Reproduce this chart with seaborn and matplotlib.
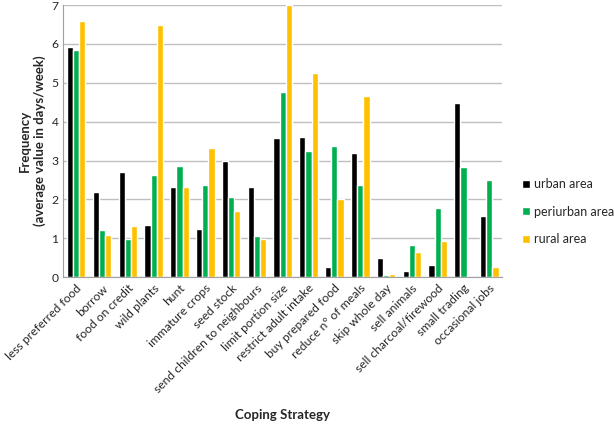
import pandas as pd
import matplotlib.pyplot as plt
import seaborn as sns

# Coping strategies and average frequency per area
strategies = ['less preferred food', 'borrow', 'food on credit', 'wild plants', 'hunt',
              'immature crops', 'seed stock', 'send children to neighbours',
              'limit portion size', 'restrict adult intake', 'buy prepared food',
              'reduce n° of meals', 'skip whole day', 'sell animals',
              'sell charcoal/firewood', 'small trading', 'occasional jobs']
urban = [5.92, 2.19, 2.7, 1.33, 2.32, 1.24, 3.0, 2.32, 3.57, 3.6, 0.25, 3.2, 0.49, 0.15, 0.32, 4.49, 1.57]
periurban = [5.85, 1.22, 0.99, 2.64, 2.85, 2.36, 2.07, 1.06, 4.76, 3.25, 3.37, 2.36, 0.06, 0.83, 1.78, 2.84, 2.49]
rural = [6.58, 1.08, 1.32, 6.5, 2.32, 3.33, 1.71, 0.99, 7.0, 5.25, 2.0, 4.67, 0.09, 0.65, 0.92, 0.0, 0.25]
areas = ['urban area', 'periurban area', 'rural area']
colors = ['#000000', '#00B050', '#FFC000']

data = pd.DataFrame({'strategy': strategies, 'urban area': urban,
                     'periurban area': periurban, 'rural area': rural})
data = data.melt(id_vars='strategy', var_name='area', value_name='freq')

sns.set_style('white')
plt.rcParams['font.family'] = ['Lato', 'DejaVu Sans']

fig = plt.figure(figsize=(6.14, 4.25), dpi=100)
ax = fig.add_axes([0.103, 0.348, 0.715, 0.64])
sns.barplot(data=data, x='strategy', y='freq', hue='area', hue_order=areas,
            palette=colors, width=0.72, saturation=1, ax=ax)

ax.set_ylim(0, 7)
ax.set_yticks(range(8))
ax.set_xlim(-0.5, len(strategies) - 0.5)
ax.yaxis.grid(True, color='#bfbfbf', linewidth=1)
ax.set_axisbelow(True)
for s in ['top', 'right']:
    ax.spines[s].set_visible(False)
ax.spines['left'].set_color('#a0a0a0')
ax.spines['bottom'].set_color('#a0a0a0')
ax.tick_params(length=0, labelsize=8.7)
ax.tick_params(axis='x', pad=4)
plt.setp(ax.get_xticklabels(), rotation=45, ha='right', rotation_mode='anchor')

ax.set_xlabel('Coping Strategy', fontsize=9.5, fontweight='bold', labelpad=10)
ax.set_ylabel('Frequency\n(average value in days/week)', fontsize=9.5, fontweight='bold')

ax.legend(title=None, frameon=False, loc='center left', bbox_to_anchor=(1.02, 0.24),
          fontsize=9, handlelength=0.6, handleheight=0.6, handletextpad=0.3,
          labelspacing=1.25)

fig.savefig('out.png', dpi=100)
